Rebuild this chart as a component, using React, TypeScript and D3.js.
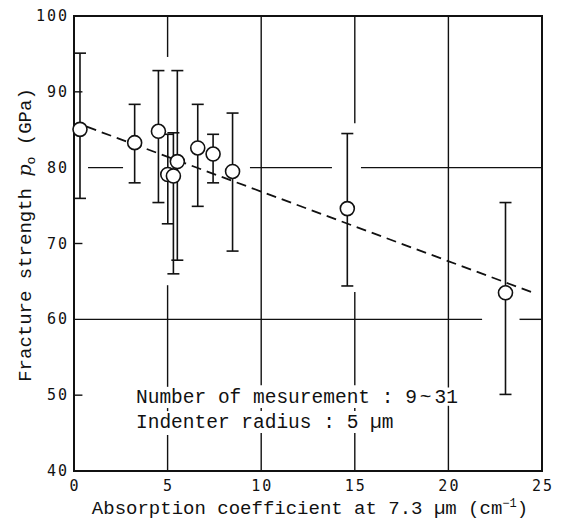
import React from 'react';
import * as d3 from 'd3';

// measured points (absorption coefficient, fracture strength) with error bar ends
const absCoef = [0.32, 3.24, 4.51, 5.01, 5.31, 5.52, 6.61, 7.43, 8.47, 14.6, 23.05];
const strength = [85.05, 83.3, 84.8, 79.1, 78.9, 80.8, 82.6, 81.8, 79.5, 74.6, 63.5];
const errHigh = [95.1, 88.35, 92.8, 84.4, 84.6, 92.8, 88.35, 84.4, 87.2, 84.5, 75.4];
const errLow = [75.95, 78.0, 75.4, 72.6, 66.0, 67.8, 74.9, 78.0, 69.0, 64.4, 50.1];

// dashed fit line ends
const fitX = [0.68, 24.65];
const fitY = [85.4, 63.4];

const xTicks = [0, 5, 10, 15, 20, 25];
const yTicks = [40, 50, 60, 70, 80, 90, 100];

// grid lines as drawn in the figure (broken where marks/text sit)
const vGrid: [number, number, number][] = [
  [5, 100, 94.6], [5, 64.5, 51.1], [5, 48.3, 47.9], [5, 44.75, 40],
  [10, 100, 51.3], [10, 48.3, 47.9], [10, 45, 40],
  [15, 100, 85.85], [15, 63.6, 51.3], [15, 48.3, 47.9], [15, 45, 40],
  [20, 100, 51.0], [20, 48.6, 40],
];
const hGrid: [number, number, number][] = [
  [80, 0.75, 2.62], [80, 9.4, 13.78], [80, 15.33, 25],
  [60, 0, 21.8], [60, 23.8, 25],
  [90, 0, 0.45], [70, 0, 0.45], [50, 0, 0.45],
];

const W = 562, H = 523;
const mono = '"Liberation Mono", "Courier New", monospace';
const tickFont = '"DejaVu Sans Mono", monospace';

export default function App() {
  const x = d3.scaleLinear().domain([0, 25]).range([74, 542]);
  const y = d3.scaleLinear().domain([40, 100]).range([471, 16]);
  const fit = d3.line<number>().x(d => x(d)).y((d, i) => y(fitY[i]));

  return (
    <svg width={W} height={H} style={{ position: 'absolute', left: 0, top: 0, background: '#fff' }}>
      <rect width={W} height={H} fill="#fff" />
      <g stroke="#111" strokeWidth={1.4} fill="none">
        {vGrid.map(([v, a, b], i) => (
          <line key={'v' + i} x1={x(v)} x2={x(v)} y1={y(a)} y2={y(b)} />
        ))}
        {hGrid.map(([v, a, b], i) => (
          <line key={'h' + i} x1={x(a)} x2={x(b)} y1={y(v)} y2={y(v)} />
        ))}
      </g>
      <rect x={x(0)} y={y(100)} width={x(25) - x(0)} height={y(40) - y(100)}
        fill="none" stroke="#111" strokeWidth={2} />

      <path d={fit(fitX) || ''} fill="none" stroke="#111" strokeWidth={1.8} strokeDasharray="10,6" />

      <g stroke="#111" strokeWidth={1.6}>
        {absCoef.map((a, i) => (
          <g key={'e' + i}>
            <line x1={x(a)} x2={x(a)} y1={y(errHigh[i])} y2={y(errLow[i])} />
            <line x1={x(a) - 6} x2={x(a) + 6} y1={y(errHigh[i])} y2={y(errHigh[i])} />
            <line x1={x(a) - 6} x2={x(a) + 6} y1={y(errLow[i])} y2={y(errLow[i])} />
          </g>
        ))}
      </g>
      <g stroke="#111" strokeWidth={1.6} fill="#fff">
        {absCoef.map((a, i) => (
          <circle key={'c' + i} cx={x(a)} cy={y(strength[i])} r={7} />
        ))}
      </g>

      <g fontFamily={tickFont} fontSize={15} fill="#111" letterSpacing={2}>
        {yTicks.map(t => (
          <text key={'yt' + t} x={69} y={y(t) + 5} textAnchor="end">{t}</text>
        ))}
        {xTicks.map(t => (
          <text key={'xt' + t} x={x(t) + 1} y={491} textAnchor="middle">{t}</text>
        ))}
      </g>

      <text x={310} y={514} textAnchor="middle" fontFamily={mono} fontSize={19} fill="#111">
        Absorption coefficient at 7.3 µm (cm<tspan fontSize={12} dy={-7}>−1</tspan><tspan dy={7}>)</tspan>
      </text>

      <text transform={`translate(31,235) rotate(-90)`} textAnchor="middle" fontFamily={mono} fontSize={19} fill="#111">
        Fracture strength <tspan fontFamily="'DejaVu Serif', serif" fontStyle="italic">p</tspan>
        <tspan fontSize={13} dy={4}>o</tspan><tspan dy={-4}>  (GPa)</tspan>
      </text>

      <g fontFamily={mono} fontSize={19.5} fill="#111">
        <text x={136} y={403}>Number of mesurement : 9<tspan dx={3}>~</tspan><tspan dx={3}>31</tspan></text>
        <text x={136} y={428}>Indenter radius : 5 µm</text>
      </g>
    </svg>
  );
}
